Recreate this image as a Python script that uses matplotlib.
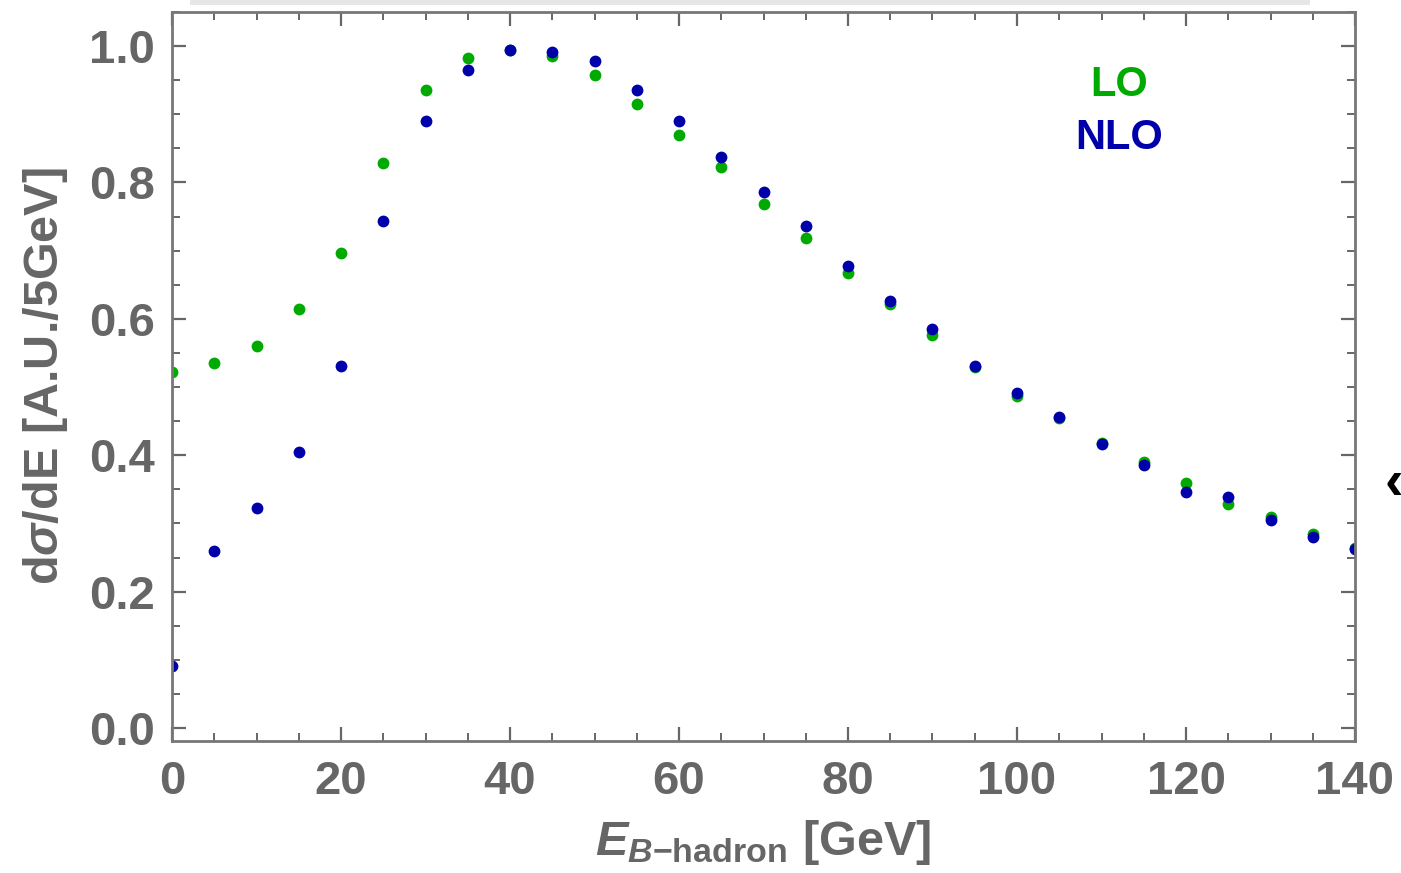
import numpy as np
import matplotlib
matplotlib.use("Agg")
import matplotlib.pyplot as plt
from matplotlib.ticker import MultipleLocator
from matplotlib.patches import Rectangle

# fonts: bold Helvetica-like, mathtext uses the same family
plt.rcParams['font.family'] = ['Liberation Sans', 'DejaVu Sans']
plt.rcParams['font.weight'] = 'bold'
plt.rcParams['mathtext.fontset'] = 'custom'
plt.rcParams['mathtext.rm'] = 'Liberation Sans:bold'
plt.rcParams['mathtext.it'] = 'Liberation Sans:italic:bold'
plt.rcParams['mathtext.bf'] = 'Liberation Sans:bold'

# bin energies (GeV)
energy = [0, 5, 10, 15, 20, 25, 30, 35, 40, 45, 50, 55, 60, 65, 70,
          75, 80, 85, 90, 95, 100, 105, 110, 115, 120, 125, 130, 135, 140]

# normalised distributions
lo = [0.522, 0.535, 0.560, 0.614, 0.697, 0.828, 0.936, 0.983, 0.995, 0.986,
      0.957, 0.915, 0.870, 0.823, 0.769, 0.719, 0.668, 0.622, 0.576, 0.530,
      0.487, 0.455, 0.418, 0.390, 0.360, 0.328, 0.310, 0.285, 0.264]
nlo = [0.091, 0.259, 0.322, 0.405, 0.531, 0.744, 0.890, 0.965, 0.995, 0.991,
       0.978, 0.936, 0.890, 0.837, 0.786, 0.736, 0.678, 0.626, 0.585, 0.531,
       0.492, 0.456, 0.417, 0.385, 0.346, 0.339, 0.305, 0.280, 0.263]

green = '#00aa00'
blue = '#0000aa'
grey = '#666666'

fig = plt.figure(figsize=(14.01, 8.73), dpi=100)

# faint shadow strip along the top edge of the screenshot
fig.patches.append(Rectangle((190/1401, 1 - 5/873), (1310-190)/1401, 5/873,
                             transform=fig.transFigure, color='#e6e6e6', lw=0))

ax = fig.add_axes([172/1401, 1 - 741/873, (1355-172)/1401, (741-12)/873])

ax.plot(energy, lo, 'o', color=green, ms=8.5, mec='none')
ax.plot(energy, nlo, 'o', color=blue, ms=8.5, mec='none')

ax.set_xlim(0, 140)
ax.set_ylim(-0.019, 1.05)

ax.xaxis.set_major_locator(MultipleLocator(20))
ax.xaxis.set_minor_locator(MultipleLocator(5))
ax.yaxis.set_major_locator(MultipleLocator(0.2))
ax.yaxis.set_minor_locator(MultipleLocator(0.05))
ax.yaxis.set_major_formatter(matplotlib.ticker.FormatStrFormatter('%.1f'))

for s in ax.spines.values():
    s.set_color('#777777')
    s.set_linewidth(2)

ax.tick_params(which='both', direction='in', top=True, right=True,
               color=grey, labelcolor=grey, labelsize=34)
ax.tick_params(which='major', length=10, width=1.6, pad=12)
ax.tick_params(which='minor', length=6, width=1.4)
ax.tick_params(axis='x', which='major', pad=14)

ax.set_xlabel(r'$E_{B\mathrm{-hadron}}$ [GeV]', fontsize=35, color=grey,
              fontweight='bold', labelpad=10)
ax.set_ylabel(r'd$\sigma$/dE [A.U./5GeV]', fontsize=35, color=grey,
              fontweight='bold', labelpad=14)

ax.text(0.801, 0.900, 'LO', transform=ax.transAxes, color=green,
        fontsize=30, fontweight='bold', ha='center', va='center')
ax.text(0.801, 0.827, 'NLO', transform=ax.transAxes, color=blue,
        fontsize=30, fontweight='bold', ha='center', va='center')

# small cursor glyph at the right edge of the screenshot
fig.text(1394/1401, 1 - 485/873, '‹', color='black', fontsize=40,
         fontweight='bold', ha='center', va='center')

fig.savefig('out.png', dpi=100)
